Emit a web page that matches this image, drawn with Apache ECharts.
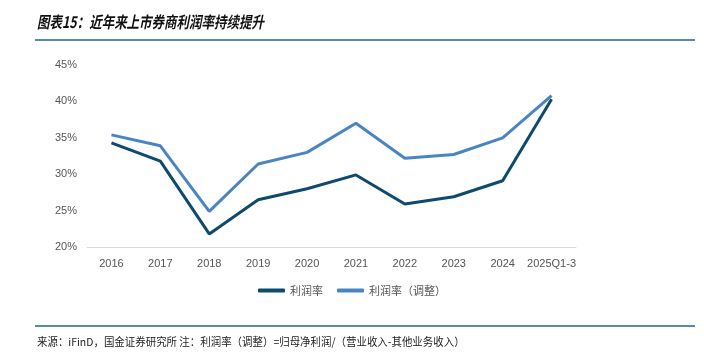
<!DOCTYPE html>
<html><head><meta charset="utf-8">
<script src="https://cdn.jsdelivr.net/npm/echarts@6/dist/echarts.min.js"></script>
<style>html,body{margin:0;padding:0;background:#fff}#c{width:704px;height:363px}</style>
</head><body><div id="c"></div>
<script>
const categories = ['2016','2017','2018','2019','2020','2021','2022','2023','2024','2025Q1-3'];
const profitMargin = [34.3, 31.8, 21.8, 26.5, 28.0, 29.9, 25.9, 26.9, 29.1, 40.3];
const profitMarginAdj = [35.4, 33.9, 24.9, 31.4, 33.0, 37.0, 32.2, 32.7, 35.0, 40.8];
const seriesNames = ['利润率', '利润率（调整）'];
const titleText = '图表15：近年来上市券商利润率持续提升';
const sourceText = '来源：iFinD，国金证券研究所 注：利润率（调整）=归母净利润/（营业收入-其他业务收入）';

const chart = echarts.init(document.getElementById('c'));
chart.setOption({
  animation: false,
  backgroundColor: '#fff',
  graphic: [
    {type:'text', x: 37, y: 14, scaleX: 0.78, style:{text:titleText, font:'italic bold 16px "Noto Sans CJK SC"', fill:'#111'}},
    {type:'rect', shape:{x:35, y:39, width:660, height:2}, style:{fill:'#5b8ba8'}},
    {type:'rect', shape:{x:35, y:325, width:660, height:2}, style:{fill:'#5b8ba8'}},
    {type:'text', x: 37, y: 336, scaleX: 0.95, style:{text:sourceText, font:'11px "Noto Sans CJK SC"', fill:'#222'}}
  ],
  legend: {
    data: seriesNames,
    bottom: 62,
    left: 'center',
    itemWidth: 27, itemHeight: 4, itemGap: 14,
    icon: 'roundRect',
    textStyle: {fontSize: 11, color: '#555', fontFamily: '"Noto Sans CJK SC", sans-serif'}
  },
  grid: {left: 87, right: 128, top: 65, bottom: 116},
  xAxis: {
    type: 'category',
    data: categories,
    axisLine: {lineStyle: {color: '#d9d9d9'}},
    axisTick: {inside: true, length: 4, lineStyle: {color: '#d9d9d9'}},
    axisLabel: {interval: 0, color: '#555', fontSize: 11, margin: 11, fontFamily: 'Liberation Sans, Arial'}
  },
  yAxis: {
    type: 'value',
    min: 20, max: 45, interval: 5,
    axisLine: {show: false},
    axisTick: {show: false},
    splitLine: {show: false},
    axisLabel: {formatter: '{value}%', color: '#555', fontSize: 11, margin: 10, fontFamily: 'Liberation Sans, Arial'}
  },
  series: [
    {name: seriesNames[0], type: 'line', data: profitMargin, symbol: 'none', lineStyle: {width: 3, color: '#0e4a6e'}, itemStyle: {color: '#0e4a6e'}},
    {name: seriesNames[1], type: 'line', data: profitMarginAdj, symbol: 'none', lineStyle: {width: 3, color: '#4a85c3'}, itemStyle: {color: '#4a85c3'}}
  ]
});
</script></body></html>
